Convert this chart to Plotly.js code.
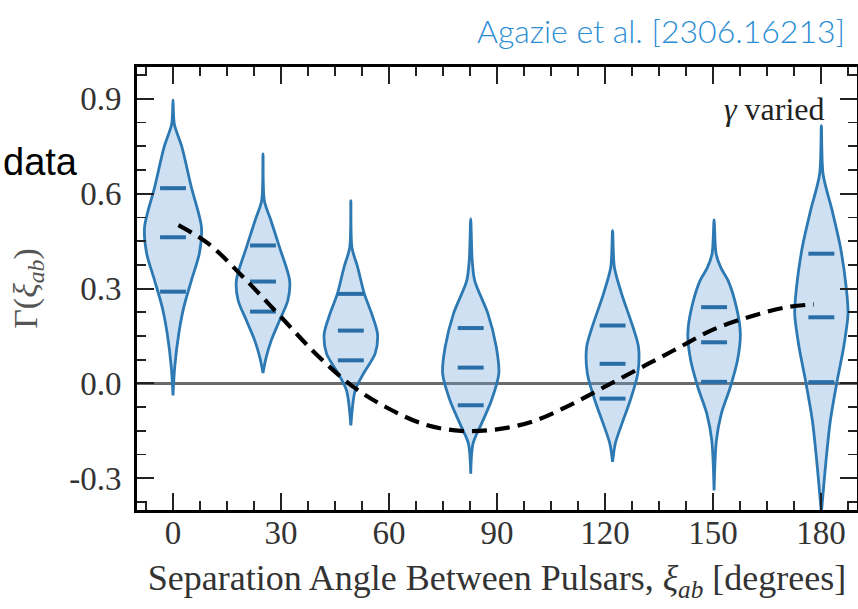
<!DOCTYPE html>
<html>
<head>
<meta charset="utf-8">
<script src="https://cdn.plot.ly/plotly-3.0.1.min.js"></script>
<style>
  html, body { margin: 0; padding: 0; background: #ffffff; }
  #chart { width: 858px; height: 609px; }
</style>
</head>
<body>
<div id="chart"></div>
<script>
// Bin centres (separation angle, degrees)
const binAngle = [0, 25, 49.4, 82.7, 122.1, 150.3, 180.1];

// Posterior density outline of each bin: Γ levels (top to bottom) and half-width in degrees
const bin1Gamma = [0.896, 0.82, 0.746, 0.62, 0.494, 0.41, 0.325, 0.241, 0.157, 0.051, -0.038];
const bin1Width = [0, 0.36, 2.5, 5.1, 7.9, 7.3, 5.1, 3.0, 1.6, 0.47, 0];
const bin2Gamma = [0.725, 0.578, 0.515, 0.43, 0.325, 0.262, 0.199, 0.136, 0.083, 0.033];
const bin2Width = [0, 0.36, 2.2, 4.6, 7.4, 6.9, 4.6, 2.3, 0.9, 0];
const bin3Gamma = [0.578, 0.43, 0.367, 0.283, 0.22, 0.157, 0.094, 0.031, -0.022, -0.133];
const bin3Width = [0, 0.3, 1.9, 3.75, 5.8, 7.4, 6.75, 3.5, 1.2, 0];
const bin4Gamma = [0.52, 0.39, 0.325, 0.22, 0.115, 0.031, -0.054, -0.127, -0.19, -0.285];
const bin4Width = [0, 0.4, 1.1, 4.8, 7.1, 7.8, 5.75, 3.0, 0.64, 0];
const bin5Gamma = [0.483, 0.367, 0.284, 0.177, 0.115, 0.031, -0.054, -0.127, -0.19, -0.248];
const bin5Width = [0, 0.5, 2.5, 5.7, 7.2, 7.0, 4.9, 2.6, 0.75, 0];
const bin6Gamma = [0.517, 0.41, 0.365, 0.325, 0.241, 0.157, 0.073, -0.012, -0.096, -0.18, -0.338];
const bin6Width = [0, 0.55, 1.9, 3.9, 6.2, 7.3, 6.5, 4.5, 2.0, 0.64, 0];
const bin7Gamma = [0.815, 0.662, 0.546, 0.43, 0.304, 0.22, 0.115, 0.009, -0.117, -0.243, -0.348, -0.41];
const bin7Width = [0, 0.47, 3.0, 5.3, 6.9, 7.4, 6.2, 4.4, 2.5, 1.3, 0.47, 0];

// Quantile markers inside each violin
const quantHigh = [0.617, 0.436, 0.283, 0.175, 0.183, 0.241, 0.41];
const quantMid  = [0.462, 0.322, 0.167, 0.050, 0.062, 0.130, 0.209];
const quantLow  = [0.290, 0.227, 0.073, -0.069, -0.048, 0.005, 0.004];

// Hellings–Downs expectation (dashed)
const hdAngle = [1.5, 10, 20, 30, 40, 50, 60, 70, 80, 90, 100, 110, 120, 130, 140, 150, 160, 170, 178];
const hdGamma = [0.50, 0.44, 0.33, 0.21, 0.09, -0.01, -0.08, -0.13, -0.15, -0.145, -0.12, -0.07, -0.01, 0.05, 0.11, 0.17, 0.21, 0.24, 0.25];

// Axis ticks
const xTicks = [0, 30, 60, 90, 120, 150, 180];
const yTicks = [-0.3, 0.0, 0.3, 0.6, 0.9];
const yTickText = ['-0.3', '0.0', '0.3', '0.6', '0.9'];

const profiles = [
  [bin1Gamma, bin1Width], [bin2Gamma, bin2Width], [bin3Gamma, bin3Width],
  [bin4Gamma, bin4Width], [bin5Gamma, bin5Width], [bin6Gamma, bin6Width],
  [bin7Gamma, bin7Width]
];

const violinLine = '#2c79b3';
const violinFill = 'rgba(110,165,215,0.34)';
const quantColor = '#2a6ea8';
const serif = 'Liberation Serif';

const traces = [];

profiles.forEach(([g, w], i) => {
  const c = binAngle[i];
  const xs = [], ys = [];
  for (let k = 0; k < g.length; k++) { xs.push(c + w[k]); ys.push(g[k]); }
  for (let k = g.length - 1; k >= 0; k--) { xs.push(c - w[k]); ys.push(g[k]); }
  traces.push({
    type: 'scatter', mode: 'lines', x: xs, y: ys,
    fill: 'toself', fillcolor: violinFill,
    line: { color: violinLine, width: 2.8, shape: 'spline', smoothing: 0.8 },
    hoverinfo: 'skip', showlegend: false
  });
});

// Quantile bars
const qx = [], qy = [];
const halfBar = 3.6;
[quantHigh, quantMid, quantLow].forEach(q => {
  q.forEach((v, i) => {
    qx.push(binAngle[i] - halfBar, binAngle[i] + halfBar, null);
    qy.push(v, v, null);
  });
});
traces.push({
  type: 'scatter', mode: 'lines', x: qx, y: qy,
  line: { color: quantColor, width: 4 },
  hoverinfo: 'skip', showlegend: false
});

traces.push({
  type: 'scatter', mode: 'lines', x: hdAngle, y: hdGamma,
  line: { color: '#000000', width: 4.2, dash: '15px,8px', shape: 'spline', smoothing: 1 },
  hoverinfo: 'skip', showlegend: false
});

const layout = {
  width: 858, height: 609,
  margin: { l: 137, r: 1, t: 67, b: 99 },
  font: { family: serif, color: '#333' },
  paper_bgcolor: '#ffffff', plot_bgcolor: '#ffffff',
  showlegend: false,
  xaxis: {
    range: [-10, 190],
    tickmode: 'array', tickvals: xTicks,
    ticks: 'inside', ticklen: 17, tickwidth: 2, tickcolor: '#222',
    minor: { tick0: 0, dtick: 7.5, ticks: 'inside', ticklen: 9, tickwidth: 1.6, tickcolor: '#222', showgrid: false },
    showline: true, linewidth: 3, linecolor: '#000', mirror: 'ticks',
    showgrid: false, zeroline: false,
    tickfont: { family: serif, size: 33, color: '#333' }, ticklabelstandoff: -9,
    title: {
      text: 'Separation Angle Between Pulsars, <i>ξ<sub>ab</sub></i> [degrees]',
      font: { family: serif, size: 36, color: '#333' }, standoff: 16
    }
  },
  yaxis: {
    range: [-0.4, 1.0],
    tickmode: 'array', tickvals: yTicks, ticktext: yTickText,
    ticks: 'inside', ticklen: 17, tickwidth: 2, tickcolor: '#222',
    minor: { tick0: 0, dtick: 0.075, ticks: 'inside', ticklen: 9, tickwidth: 1.6, tickcolor: '#222', showgrid: false },
    showline: true, linewidth: 3, linecolor: '#000', mirror: 'ticks',
    showgrid: false,
    zeroline: true, zerolinecolor: '#6a6a6a', zerolinewidth: 3,
    tickfont: { family: serif, size: 33, color: '#333' }, ticklabelstandoff: 6,
    title: {
      text: 'Γ(<i>ξ<sub>ab</sub></i>)',
      font: { family: serif, size: 34, color: '#555' }, standoff: 22
    }
  },
  annotations: [
    {
      text: 'Agazie et al. [2306.16213]', showarrow: false,
      xref: 'paper', yref: 'paper', x: 0.986, y: 1.082, xanchor: 'right', yanchor: 'middle',
      font: { family: 'Lato', size: 32, color: '#2b8ed5', weight: 300 }
    },
    {
      text: 'data', showarrow: false,
      xref: 'paper', yref: 'paper', x: -0.079, y: 0.785, xanchor: 'right', yanchor: 'middle',
      font: { family: 'Liberation Sans', size: 38, color: '#000' }
    },
    {
      text: '<i>γ</i> varied', showarrow: false,
      xref: 'paper', yref: 'paper', x: 0.958, y: 0.905, xanchor: 'right', yanchor: 'middle',
      font: { family: serif, size: 32, color: '#222' }
    }
  ]
};

Plotly.newPlot('chart', traces, layout, { displayModeBar: false, staticPlot: true });
</script>
</body>
</html>
